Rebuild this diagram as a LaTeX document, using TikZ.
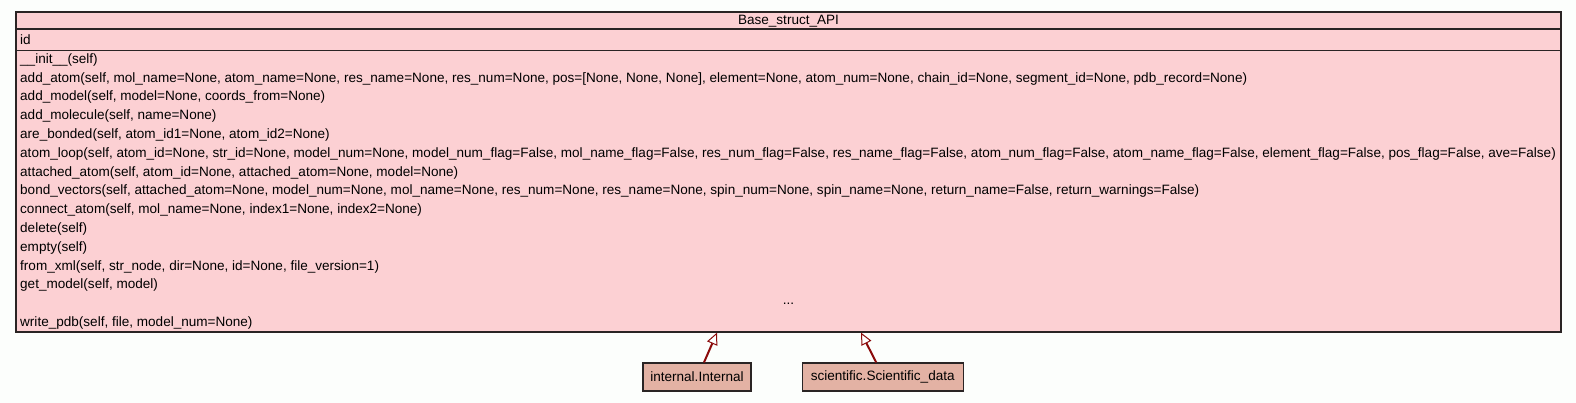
\documentclass[tikz,border=0pt]{standalone}
\usepackage{fontspec}
\setmainfont{Liberation Sans}
\usetikzlibrary{arrows.meta, positioning}
\definecolor{classFill}{HTML}{FCD0D3}
\definecolor{childFill}{HTML}{E3B2A4}
\definecolor{umlBorder}{HTML}{2A2424}
\definecolor{inheritRed}{HTML}{8B0A0A}
\definecolor{canvasBg}{HTML}{FCFEFC}

\begin{document}
\begin{tikzpicture}[x=1pt, y=-1pt,
        txt/.style={font=\fontsize{13.55}{15}\selectfont, inner sep=0pt},
        meth/.style={txt, anchor=west},
        cls/.style={draw=umlBorder, fill=classFill, line width=1.2pt, inner sep=0pt},
        child/.style={draw=umlBorder, fill=childFill, line width=1.2pt, txt, minimum height=28pt},
        inh/.style={-{Triangle[length=12pt, width=11pt, fill=white, line width=1pt]}, draw=inheritRed, line width=2pt}
    ]
        \fill[canvasBg] (0,0) rectangle (1576,403);
        \useasboundingbox (0,0) rectangle (1576,403);

        \node[cls, minimum width=1545pt, minimum height=320pt] (api) at (788.5,172) {};
        \draw[umlBorder, line width=1.2pt] (api.west |- 0,29) -- (api.east |- 0,29);
        \draw[umlBorder, line width=1.2pt] (api.west |- 0,50.5) -- (api.east |- 0,50.5);

        \node[txt] (apiName) at (788.5,21.5) {Base\_struct\_API};
        \node[meth] (apiAttr) at (20,40) {id};
        \foreach \m [count=\i] in {
            {\_\_init\_\_(self)},
            {add\_atom(self, mol\_name=None, atom\_name=None, res\_name=None, res\_num=None, pos=[None, None, None], element=None, atom\_num=None, chain\_id=None, segment\_id=None, pdb\_record=None)},
            {add\_model(self, model=None, coords\_from=None)},
            {add\_molecule(self, name=None)},
            {are\_bonded(self, atom\_id1=None, atom\_id2=None)},
            {atom\_loop(self, atom\_id=None, str\_id=None, model\_num=None, model\_num\_flag=False, mol\_name\_flag=False, res\_num\_flag=False, res\_name\_flag=False, atom\_num\_flag=False, atom\_name\_flag=False, element\_flag=False, pos\_flag=False, ave=False)},
            {attached\_atom(self, atom\_id=None, attached\_atom=None, model=None)},
            {bond\_vectors(self, attached\_atom=None, model\_num=None, mol\_name=None, res\_num=None, res\_name=None, spin\_num=None, spin\_name=None, return\_name=False, return\_warnings=False)},
            {connect\_atom(self, mol\_name=None, index1=None, index2=None)},
            {delete(self)},
            {empty(self)},
            {from\_xml(self, str\_node, dir=None, id=None, file\_version=1)},
            {get\_model(self, model)}}
            \node[meth] (m\i) at (20, 41.1+18.79*\i) {\m};
        \node[txt] (mDots) at (788.5, 304) {...};
        \node[meth] (mLast) at (20, 322.9) {write\_pdb(self, file, model\_num=None)};

        \node[child, minimum width=108pt] (internal) at (697,377) {internal.Internal};
        \node[child, minimum width=161pt, right=50pt of internal] (scientific) {scientific.Scientific\_data};

        \draw[inh] ([xshift=7pt]internal.north) -- ([xshift=-71.5pt]api.south);
        \draw[inh] ([xshift=-6.5pt]scientific.north) -- ([xshift=72.5pt]api.south);
    \end{tikzpicture}
\end{document}
